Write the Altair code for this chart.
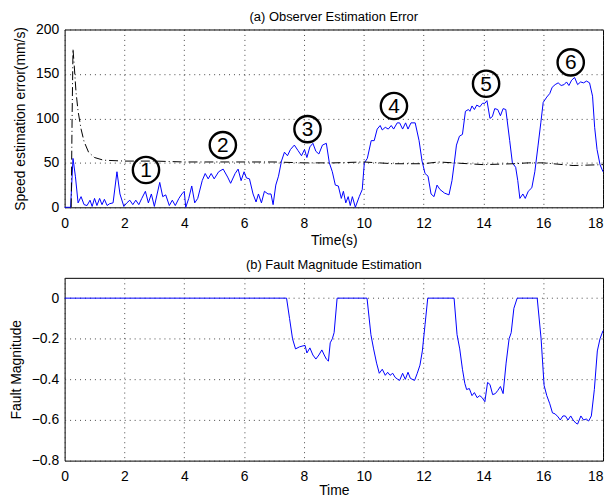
import altair as alt
import pandas as pd

# ---- data ----
err_t = [0.0,0.2,0.28,0.36,0.45,0.55,0.65,0.75,0.85,0.92,1.0,1.08,1.17,1.25,1.33,1.42,1.5,1.62,1.75,1.85,1.98,2.08,2.18,2.28,2.38,2.48,2.58,2.7,2.8,2.9,3.0,3.18,3.28,3.38,3.5,3.6,3.7,3.82,3.92,4.0,4.05,4.15,4.25,4.35,4.45,4.6,4.7,4.8,4.9,5.0,5.15,5.3,5.45,5.55,5.7,5.8,5.9,6.0,6.08,6.18,6.3,6.4,6.48,6.58,6.68,6.8,6.9,6.97,7.06,7.15,7.25,7.35,7.45,7.55,7.68,7.8,7.92,8.02,8.1,8.2,8.3,8.4,8.5,8.62,8.75,8.85,8.95,9.05,9.15,9.25,9.32,9.4,9.48,9.55,9.62,9.72,9.85,9.95,10.02,10.12,10.25,10.35,10.45,10.55,10.62,10.72,10.82,10.92,11.0,11.12,11.2,11.3,11.4,11.48,11.58,11.72,11.85,11.95,12.05,12.15,12.25,12.35,12.45,12.55,12.7,12.85,12.95,13.02,13.1,13.2,13.3,13.4,13.5,13.55,13.62,13.7,13.78,13.88,13.97,14.05,14.12,14.22,14.3,14.38,14.48,14.57,14.66,14.75,14.88,14.97,15.08,15.15,15.22,15.32,15.4,15.5,15.62,15.72,15.83,15.92,16.0,16.12,16.22,16.3,16.4,16.5,16.6,16.7,16.78,16.86,16.95,17.05,17.15,17.25,17.35,17.45,17.55,17.65,17.72,17.8,17.9,18.0]
err_v = [0,0,55,35,5,12,3,2,8,1,10,2,10,3,9,2,4,5,40,15,1,5,8,3,8,3,10,18,5,15,1,28,12,14,2,8,2,10,15,18,0,10,24,5,10,30,38,32,38,32,40,43,34,27,38,43,30,40,33,32,15,6,15,5,18,15,15,3,25,35,52,62,58,65,70,64,58,65,56,68,72,63,60,70,72,50,40,25,24,10,18,5,12,2,12,0,12,20,50,55,75,75,88,92,87,90,88,92,88,95,95,88,95,88,95,95,75,52,38,35,15,12,25,20,16,14,30,48,70,80,82,108,110,108,114,110,115,113,117,117,120,100,102,111,110,103,111,110,75,50,45,30,10,15,10,18,22,40,70,95,118,124,128,135,138,140,137,138,141,137,143,146,138,141,140,142,140,125,90,65,48,40]

bound_t = [0.22,0.25,0.28,0.32,0.38,0.45,0.55,0.65,0.8,1.0,1.3,2,3,4,5,6,7,8,9,10,11,12,12.5,13,14,15,15.5,16,17,18]
bound_v = [0,100,178,160,130,108,88,74,62,56,53,52,52,51,51,51,51,50,50,51,49,49,51,50,48,49,50,50,47,48]

mark_labels = ["1", "2", "3", "4", "5", "6"]
mark_t = [2.72, 5.29, 8.12, 11.01, 14.09, 16.92]
mark_v = [42, 70, 88, 114, 139, 163]

fault_t = [0,7.42,7.52,7.62,7.72,7.85,7.97,8.04,8.1,8.2,8.3,8.4,8.5,8.6,8.68,8.75,8.82,8.88,8.95,9.01,9.11,10.11,10.24,10.33,10.43,10.52,10.62,10.72,10.8,10.88,10.97,11.05,11.14,11.2,11.3,11.39,11.48,11.56,11.7,11.79,11.88,11.96,12.05,12.14,13.02,13.12,13.21,13.3,13.38,13.44,13.53,13.62,13.7,13.79,13.88,13.96,14.05,14.14,14.22,14.31,14.4,14.48,14.57,14.66,14.76,14.86,14.93,15.02,15.13,15.8,15.93,16.03,16.12,16.22,16.31,16.4,16.5,16.57,16.66,16.74,16.83,16.92,17.0,17.09,17.15,17.26,17.35,17.44,17.52,17.61,17.71,17.81,17.9,18]
fault_v = [0,0,-0.1,-0.2,-0.25,-0.24,-0.235,-0.233,-0.27,-0.245,-0.28,-0.30,-0.28,-0.255,-0.28,-0.30,-0.31,-0.22,-0.2,-0.17,0,0,-0.18,-0.25,-0.32,-0.37,-0.35,-0.38,-0.365,-0.38,-0.37,-0.39,-0.40,-0.405,-0.37,-0.40,-0.365,-0.395,-0.405,-0.37,-0.33,-0.26,-0.13,0,0,-0.18,-0.25,-0.35,-0.42,-0.45,-0.445,-0.48,-0.465,-0.49,-0.48,-0.49,-0.51,-0.415,-0.425,-0.475,-0.47,-0.455,-0.435,-0.47,-0.32,-0.2,-0.17,-0.05,0,0,-0.2,-0.43,-0.48,-0.52,-0.565,-0.57,-0.585,-0.6,-0.58,-0.58,-0.6,-0.58,-0.6,-0.615,-0.62,-0.58,-0.6,-0.595,-0.605,-0.58,-0.45,-0.26,-0.2,-0.16]

x_ticks = [0, 2, 4, 6, 8, 10, 12, 14, 16, 18]
y1_ticks = [0, 50, 100, 150, 200]
y2_ticks = [0, -0.2, -0.4, -0.6, -0.8]

FONT = "Liberation Sans"

err_df = pd.DataFrame({"t": err_t, "v": err_v})
bound_df = pd.DataFrame({"t": bound_t, "v": bound_v})
mark_df = pd.DataFrame({"t": mark_t, "v": mark_v, "label": mark_labels})
fault_df = pd.DataFrame({"t": fault_t, "v": fault_v})

xscale = alt.Scale(domain=[0, 18], nice=False)
last_right = {"condition": {"test": "datum.value >= 18", "value": "right"}, "value": "center"}

def xaxis(title, tp):
    return alt.Axis(title=title, values=x_ticks, format="d", ticks=False,
                    labelAlign=last_right, titlePadding=tp)

x_top = alt.X("t:Q", scale=xscale, axis=xaxis("Time(s)", 3))
y_top = alt.Y("v:Q", scale=alt.Scale(domain=[0, 200], nice=False),
              axis=alt.Axis(title="Speed estimation error(mm/s)", values=y1_ticks, ticks=False))

blue = alt.Chart(err_df).mark_line(color="#0000ff", strokeWidth=1).encode(x=x_top, y=y_top)
dash = alt.Chart(bound_df).mark_line(color="black", strokeWidth=1, strokeDash=[9, 3, 1, 3]).encode(x=x_top, y=y_top)
circ = alt.Chart(mark_df).mark_point(shape="circle", size=700, filled=False, color="black",
                                     strokeWidth=2.4, opacity=1).encode(x=x_top, y=y_top)
txt = alt.Chart(mark_df).mark_text(fontSize=21, font=FONT, color="black", baseline="middle",
                                   dy=1).encode(x=x_top, y=y_top, text="label:N")

top = alt.layer(blue, dash, circ, txt).properties(
    width=542, height=179,
    title=alt.TitleParams("(a) Observer Estimation Error", fontSize=13, fontWeight="normal", font=FONT, offset=-1),
)

bottom = alt.Chart(fault_df).mark_line(color="#0000ff", strokeWidth=1).encode(
    x=alt.X("t:Q", scale=xscale, axis=xaxis("Time", 0)),
    y=alt.Y("v:Q", scale=alt.Scale(domain=[-0.8, 0.1], nice=False),
            axis=alt.Axis(title="Fault Magnitude", values=y2_ticks, format="~g", ticks=False)),
).properties(
    width=542, height=184,
    title=alt.TitleParams("(b) Fault Magnitude Estimation", fontSize=13, fontWeight="normal", font=FONT, offset=6),
)

chart = alt.vconcat(top, bottom, spacing=10).properties(
    padding={"left": 0, "right": 0, "top": 0, "bottom": 0}
).configure_view(
    stroke="black", strokeWidth=1
).configure_axis(
    labelFont=FONT, titleFont=FONT, labelFontSize=14, titleFontSize=14,
    labelColor="black", titleColor="black", titleFontWeight="normal",
    domain=False, grid=True, gridColor="#333", gridDash=[1, 4], gridWidth=1, gridOpacity=0.9,
).configure_axisY(titlePadding=8, labelPadding=6).configure_axisX(labelPadding=9).configure_title(color="black")

chart.save("out.html", embed_options={"renderer": "svg", "actions": False})
